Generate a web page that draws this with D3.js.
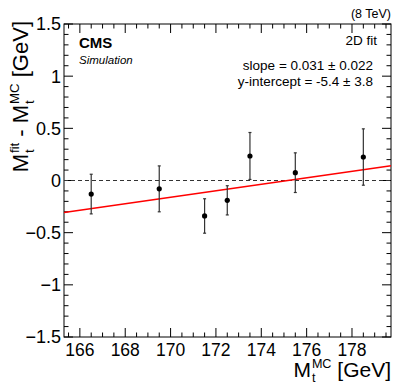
<!DOCTYPE html>
<html>
<head>
<meta charset="utf-8">
<script src="https://cdn.jsdelivr.net/npm/d3@7"></script>
<style>
  body { margin: 0; background: #fff; }
  svg text { font-family: "Liberation Sans", Arial, sans-serif; fill: #000; }
</style>
</head>
<body>
<svg id="chart" width="399" height="388"></svg>
<script>
// top mass points (GeV) and bias of the fitted mass
let masses = [166.5, 169.5, 171.5, 172.5, 173.5, 175.5, 178.5]
let bias = [-0.13, -0.08, -0.34, -0.19, 0.235, 0.075, 0.225]
let biasErr = [0.19, 0.22, 0.165, 0.14, 0.225, 0.19, 0.27]
let fitSlope = 0.031
let fitIntercept = -5.43
let xTicks = [166, 168, 170, 172, 174, 176, 178]
let yTicks = [-1.5, -1, -0.5, 0, 0.5, 1, 1.5]

let margin = {top: 24, right: 8, bottom: 51, left: 64}
let width = 399, height = 388

let svg = d3.select("#chart")

let x = d3.scaleLinear().domain([165.3, 179.72]).range([margin.left, width - margin.right])
let y = d3.scaleLinear().domain([-1.5, 1.5]).range([height - margin.bottom, margin.top])

let x0 = x.range()[0], x1 = x.range()[1]
let y0 = y.range()[0], y1 = y.range()[1]

// frame
svg.append("rect")
  .attr("x", x0).attr("y", y1)
  .attr("width", x1 - x0).attr("height", y0 - y1)
  .attr("fill", "none").attr("stroke", "#000").attr("stroke-width", 1)

// ticks on all four sides
let xMinor = d3.range(165.5, 179.6, 0.5).filter(v => xTicks.indexOf(v) < 0)
let yMinor = d3.range(-14, 15).map(v => v / 10).filter(v => yTicks.indexOf(v) < 0)

let ticks = svg.append("g").attr("stroke", "#000").attr("stroke-width", 1)
function xTick(v, len) {
  ticks.append("line").attr("x1", x(v)).attr("x2", x(v)).attr("y1", y0).attr("y2", y0 - len)
  ticks.append("line").attr("x1", x(v)).attr("x2", x(v)).attr("y1", y1).attr("y2", y1 + len)
}
function yTick(v, len) {
  ticks.append("line").attr("x1", x0).attr("x2", x0 + len).attr("y1", y(v)).attr("y2", y(v))
  ticks.append("line").attr("x1", x1).attr("x2", x1 - len).attr("y1", y(v)).attr("y2", y(v))
}
xTicks.forEach(v => xTick(v, 9))
xMinor.forEach(v => xTick(v, 4.5))
yTicks.forEach(v => yTick(v, 9))
yMinor.forEach(v => yTick(v, 4.5))

// tick labels
svg.append("g").selectAll("text")
  .data(xTicks).enter()
  .append("text")
  .attr("x", d => x(d))
  .attr("y", y0 + 19)
  .attr("text-anchor", "middle")
  .style("font-size", "17.5px")
  .text(d => d)

svg.append("g").selectAll("text")
  .data(yTicks).enter()
  .append("text")
  .attr("x", x0 - 3)
  .attr("y", d => y(d))
  .attr("dy", "0.36em")
  .attr("text-anchor", "end")
  .style("font-size", "18px")
  .text(d => d < 0 ? "\u2212" + Math.abs(d) : d)

// zero line
svg.append("line")
  .attr("x1", x0).attr("x2", x1)
  .attr("y1", y(0)).attr("y2", y(0))
  .attr("stroke", "#333").attr("stroke-width", 1)
  .attr("stroke-dasharray", "4,3")

// linear fit
svg.append("line")
  .attr("x1", x0).attr("x2", x1)
  .attr("y1", y(fitSlope * x.domain()[0] + fitIntercept))
  .attr("y2", y(fitSlope * x.domain()[1] + fitIntercept))
  .attr("stroke", "#ff0000").attr("stroke-width", 1.5)

// points with error bars
let pts = masses.map((m, i) => ({m: m, v: bias[i], e: biasErr[i]}))
let errs = svg.append("g").attr("stroke", "#333").attr("stroke-width", 1.2)
pts.forEach(d => {
  errs.append("line").attr("x1", x(d.m)).attr("x2", x(d.m)).attr("y1", y(d.v - d.e)).attr("y2", y(d.v + d.e))
  errs.append("line").attr("x1", x(d.m) - 1.5).attr("x2", x(d.m) + 1.5).attr("y1", y(d.v - d.e)).attr("y2", y(d.v - d.e))
  errs.append("line").attr("x1", x(d.m) - 1.5).attr("x2", x(d.m) + 1.5).attr("y1", y(d.v + d.e)).attr("y2", y(d.v + d.e))
})
svg.append("g").selectAll("circle")
  .data(pts).enter()
  .append("circle")
  .attr("cx", d => x(d.m))
  .attr("cy", d => y(d.v))
  .attr("r", 2.6)
  .attr("fill", "#000")

// labels
svg.append("text").attr("x", 79).attr("y", 48)
  .style("font-size", "15px").style("font-weight", "bold").text("CMS")
svg.append("text").attr("x", 79).attr("y", 64)
  .style("font-size", "11.5px").style("font-style", "italic").text("Simulation")
svg.append("text").attr("x", 391).attr("y", 18).attr("text-anchor", "end")
  .style("font-size", "12.5px").text("(8 TeV)")
svg.append("text").attr("x", 377).attr("y", 45).attr("text-anchor", "end")
  .style("font-size", "13.5px").text("2D fit")
svg.append("text").attr("x", 373).attr("y", 70).attr("text-anchor", "end")
  .style("font-size", "13.5px").text("slope = 0.031 \u00b1 0.022")
svg.append("text").attr("x", 373).attr("y", 86).attr("text-anchor", "end")
  .style("font-size", "13.5px").text("y-intercept = -5.4 \u00b1 3.8")

// axis title built from pieces: plain text and stacked sup/sub
function mathLabel(g, parts, fs) {
  let cx = 0
  parts.forEach(p => {
    if (p.t) {
      let t = g.append("text").attr("x", cx).attr("y", 0).style("font-size", fs + "px")
        .attr("xml:space", "preserve").style("white-space", "pre").text(p.t)
      cx += t.node().getComputedTextLength()
    } else {
      let s1 = g.append("text").attr("x", cx + 1).attr("y", -fs * 0.42).style("font-size", (fs * 0.6) + "px").text(p.sup)
      let s2 = g.append("text").attr("x", cx + 1).attr("y", fs * 0.25).style("font-size", (fs * 0.6) + "px").text(p.sub)
      cx += Math.max(s1.node().getComputedTextLength(), s2.node().getComputedTextLength()) + 1
    }
  })
  return cx
}

let yTitle = svg.append("g")
let yw = mathLabel(yTitle, [{t: "M"}, {sup: "fit", sub: "t"}, {t: " - M"}, {sup: "MC", sub: "t"}, {t: " [GeV]"}], 22)
yTitle.attr("transform", `translate(28, ${21 + yw}) rotate(-90)`)

let xTitle = svg.append("g")
let xw = mathLabel(xTitle, [{t: "M"}, {sup: "MC", sub: "t"}, {t: " [GeV]"}], 21)
xTitle.attr("transform", `translate(${391 - xw}, 377)`)
</script>
</body>
</html>
